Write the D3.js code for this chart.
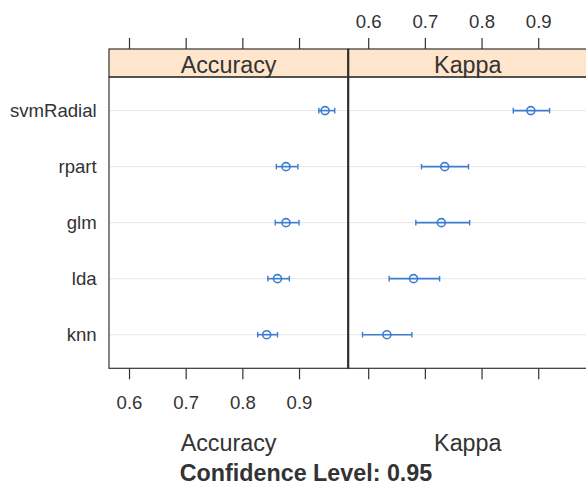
<!DOCTYPE html>
<meta charset="utf-8">
<style>
body { margin: 0; background: #fff; }
svg text { font-family: "Liberation Sans", Arial, sans-serif; fill: #333; }
</style>
<svg id="chart" width="586" height="482"></svg>
<script src="https://cdn.jsdelivr.net/npm/d3@7"></script>
<script>

// models, bottom to top as lattice draws them
var models = ["knn", "lda", "glm", "rpart", "svmRadial"];
var metrics = ["Accuracy", "Kappa"];
var tickVals = [0.6, 0.7, 0.8, 0.9];

// estimate, lower, upper (95% CI) per model
var accEst = [0.843, 0.862, 0.877, 0.877, 0.946];
var accLo  = [0.827, 0.845, 0.858, 0.860, 0.935];
var accHi  = [0.862, 0.883, 0.900, 0.898, 0.963];

var kapEst = [0.633, 0.680, 0.729, 0.735, 0.887];
var kapLo  = [0.590, 0.637, 0.684, 0.694, 0.856];
var kapHi  = [0.677, 0.726, 0.779, 0.777, 0.920];

var svg = d3.select("#chart");
var blue = "#3b7dd0";
var line = "#333";

var panelW = 239.2, panelX = 109, panelTop = 77, panelBot = 368.3, stripTop = 49;

var x = d3.scaleLinear().domain([0.5647, 0.9868]).range([0, panelW]);
var y = d3.scaleLinear().domain([0.4, 5.6]).range([panelBot, panelTop]);

var series = [
	{ name: metrics[0], est: accEst, lo: accLo, hi: accHi },
	{ name: metrics[1], est: kapEst, lo: kapLo, hi: kapHi }
];

series.forEach(function(s, p){
	var g = svg.append("g").attr("transform", "translate(" + (panelX + p*panelW) + ",0)");

	// grid lines at each model
	g.selectAll(".grid").data(models).enter().append("line")
		.attr("x1", 0).attr("x2", panelW)
		.attr("y1", function(d,i){ return y(i+1); })
		.attr("y2", function(d,i){ return y(i+1); })
		.attr("stroke", "#e6e6e6").attr("stroke-width", 1);

	// intervals
	models.forEach(function(m, i){
		var yy = y(i+1);
		g.append("line")
			.attr("x1", x(s.lo[i])).attr("x2", x(s.hi[i]))
			.attr("y1", yy).attr("y2", yy)
			.attr("stroke", blue).attr("stroke-width", 1.6);
		[s.lo[i], s.hi[i]].forEach(function(v){
			g.append("line")
				.attr("x1", x(v)).attr("x2", x(v))
				.attr("y1", yy-2.8).attr("y2", yy+2.8)
				.attr("stroke", blue).attr("stroke-width", 1.4);
		});
		g.append("circle")
			.attr("cx", x(s.est[i])).attr("cy", yy).attr("r", 4)
			.attr("fill", "none").attr("stroke", blue).attr("stroke-width", 1.6);
	});

	// strip
	g.append("rect")
		.attr("x", 0).attr("y", stripTop).attr("width", panelW).attr("height", panelTop - stripTop)
		.attr("fill", "#ffe5cc").attr("stroke", line).attr("stroke-width", 1.2);
	g.append("text")
		.attr("x", panelW/2).attr("y", 73.3)
		.attr("text-anchor", "middle").style("font-size", "23.3px")
		.text(s.name);

	// panel border
	g.append("rect")
		.attr("x", 0).attr("y", panelTop).attr("width", panelW).attr("height", panelBot - panelTop)
		.attr("fill", "none").attr("stroke", line).attr("stroke-width", 1.2);

	// axes
	var ax = g.append("g").attr("transform", "translate(0," + stripTop + ")")
		.call(d3.axisTop(x).tickValues(tickVals).tickSize(11).tickFormat(d3.format(".1f")));
	var bx = g.append("g").attr("transform", "translate(0," + panelBot + ")")
		.call(d3.axisBottom(x).tickValues(tickVals).tickSize(11).tickFormat(d3.format(".1f")));
	[ax, bx].forEach(function(a){
		a.select(".domain").remove();
		a.selectAll("line").attr("stroke", line).attr("stroke-width", 1.2);
		a.selectAll("text").attr("fill", "#333").style("font-size", "18.6px")
			.attr("font-family", null).attr("dy", null);
	});
	ax.selectAll("text").attr("y", 28.3 - stripTop);
	bx.selectAll("text").attr("y", 409.3 - panelBot);
	if (p == 0) ax.selectAll("text").remove();
	else bx.selectAll("text").remove();

	// metric label under panel
	svg.append("text")
		.attr("x", panelX + p*panelW + panelW/2).attr("y", 451)
		.attr("text-anchor", "middle").style("font-size", "23.3px")
		.text(s.name);
});

// thicker divider between panels
svg.append("line")
	.attr("x1", panelX + panelW).attr("x2", panelX + panelW)
	.attr("y1", stripTop).attr("y2", panelBot)
	.attr("stroke", line).attr("stroke-width", 2.2);

// model names
svg.selectAll(".ylab").data(models).enter().append("text")
	.attr("x", 96.7)
	.attr("y", function(d,i){ return y(i+1) + 6.6; })
	.attr("text-anchor", "end").style("font-size", "18.6px")
	.text(function(d){ return d; });

svg.append("text")
	.attr("x", 306).attr("y", 480.7)
	.attr("text-anchor", "middle").style("font-size", "23.3px").style("font-weight", "bold")
	.text("Confidence Level: 0.95");

</script>
</html>
